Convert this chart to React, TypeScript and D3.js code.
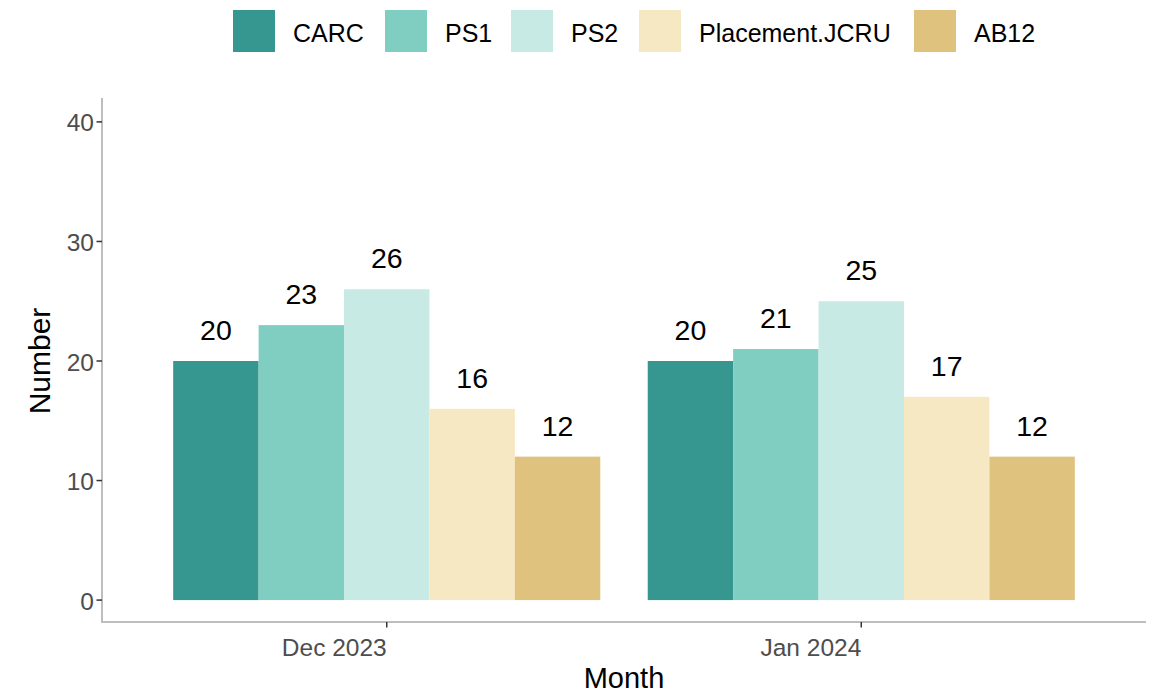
import React from "react";
import * as d3 from "d3";

const months = ["Dec 2023", "Jan 2024"];
const series = ["CARC", "PS1", "PS2", "Placement.JCRU", "AB12"];
const colors = ["#35978f", "#80cdc1", "#c7eae5", "#f6e8c3", "#dfc27d"];
const decValues = [20, 23, 26, 16, 12];
const janValues = [20, 21, 25, 17, 12];
const yTicks = [0, 10, 20, 30, 40];

const W = 1153;
const H = 694;
const left = 102;
const right = 1146;
const top = 98;
const bottom = 624;

export default function App() {
  const values = [decValues, janValues];

  // ggplot-like discrete scale: 0.6 unit of padding each side, bars 0.9 wide
  const unit = (right - left) / 2.2;
  const center = (i: number) => left + unit * (0.6 + i);
  const groupW = unit * 0.9;
  const inner = d3.scaleBand().domain(series).range([-groupW / 2, groupW / 2]);
  const y = d3.scaleLinear().domain([-2, 42]).range([bottom, top]);

  const legendX = [233, 385, 511, 639, 914];

  return (
    <svg width={W} height={H} style={{ position: "absolute", left: 0, top: 0, fontFamily: "Arial, 'Liberation Sans', sans-serif" }}>
      <rect width={W} height={H} fill="#fff" />
      {/* legend */}
      {series.map((s, i) => (
        <g key={s}>
          <rect x={legendX[i]} y={10} width={42} height={42} fill={colors[i]} />
          <text x={legendX[i] + 60} y={42} fontSize={25} fill="#000">{s}</text>
        </g>
      ))}
      {/* bars */}
      {months.map((m, gi) =>
        series.map((s, si) => {
          const v = values[gi][si];
          const bx = center(gi) + (inner(s) as number);
          return (
            <g key={m + s}>
              <rect x={bx} y={y(v)} width={inner.bandwidth()} height={y(0) - y(v)} fill={colors[si]} />
              <text x={bx + inner.bandwidth() / 2} y={y(v) - 21} textAnchor="middle" fontSize={28.5} fill="#000">{v}</text>
            </g>
          );
        })
      )}
      {/* axes */}
      <line x1={left} x2={left} y1={top} y2={bottom - 1} stroke="#bebebe" strokeWidth={2} />
      <line x1={left - 1} x2={right} y1={bottom - 2} y2={bottom - 2} stroke="#bebebe" strokeWidth={2} />
      {yTicks.map(t => (
        <g key={t}>
          <line x1={left - 5.5} x2={left} y1={y(t)} y2={y(t)} stroke="#333" strokeWidth={1.5} />
          <text x={left - 8} y={y(t) + 9.5} textAnchor="end" fontSize={24.5} fill="#4d4d4d">{t}</text>
        </g>
      ))}
      {/* x labels are right-aligned on the tick (hjust = 1) */}
      {months.map((m, i) => (
        <g key={m}>
          <line x1={center(i)} x2={center(i)} y1={bottom - 2} y2={bottom + 3.5} stroke="#333" strokeWidth={1.5} />
          <text x={center(i)} y={656} textAnchor="end" fontSize={24.5} fill="#4d4d4d">{m}</text>
        </g>
      ))}
      <text x={(left + right) / 2} y={688} textAnchor="middle" fontSize={29} fill="#000">Month</text>
      <text transform={`translate(50,${(top + bottom) / 2}) rotate(-90)`} textAnchor="middle" fontSize={30} fill="#000">Number</text>
    </svg>
  );
}
